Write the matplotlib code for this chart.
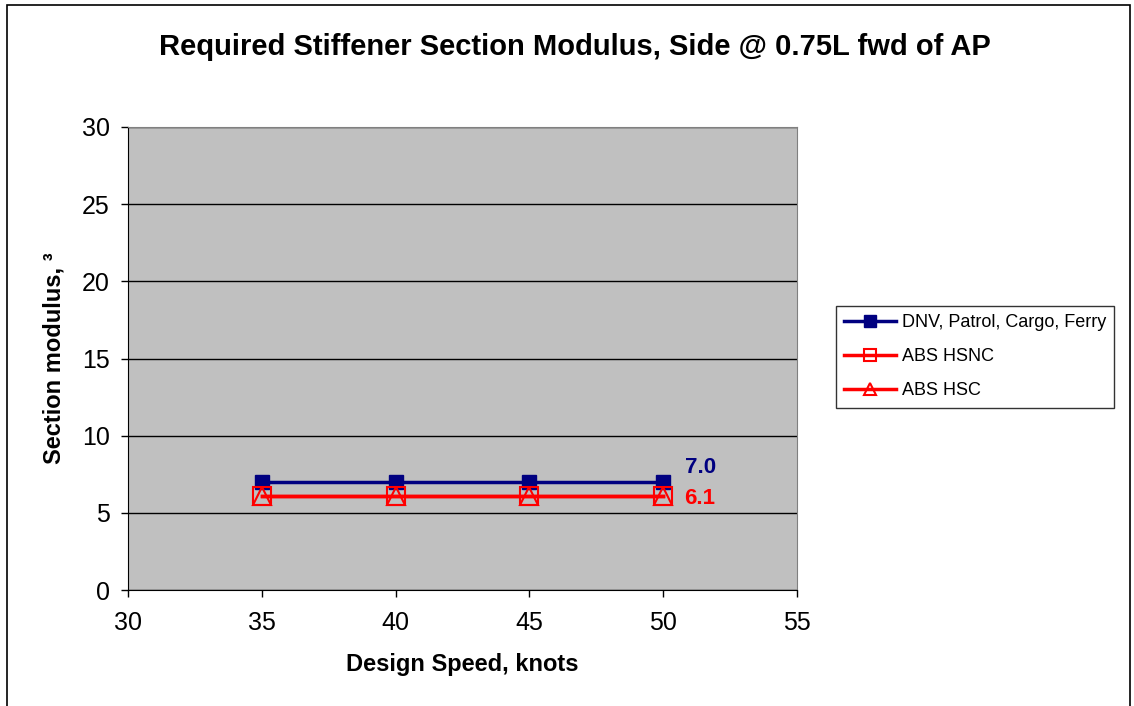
import matplotlib.pyplot as plt
from matplotlib.patches import Rectangle

plt.rcParams['font.family'] = ['Liberation Sans', 'DejaVu Sans']

# -----------------------
# Data
# -----------------------
speed = [35, 40, 45, 50]
dnv = [7.0, 7.0, 7.0, 7.0]
abs_hsnc = [6.1, 6.1, 6.1, 6.1]
abs_hsc = [6.1, 6.1, 6.1, 6.1]
x_ticks = [30, 35, 40, 45, 50, 55]
y_ticks = [0, 5, 10, 15, 20, 25, 30]

# -----------------------
# Figure
# -----------------------
fig = plt.figure(figsize=(11.34, 7.06), dpi=100)
fig.patches.append(Rectangle((7 / 1134, -0.01), 1123 / 1134, 1 - 5 / 706 + 0.01,
                             transform=fig.transFigure, fill=False,
                             edgecolor="black", linewidth=1.2))

ax = fig.add_axes([128 / 1134, 1 - 590 / 706, (797 - 128) / 1134, (590 - 127) / 706])
ax.set_facecolor("#C0C0C0")

navy = "#000080"
red = "#FF0000"
ax.plot(speed, dnv, color=navy, linewidth=2.5, marker="s", markersize=10,
        label="DNV, Patrol, Cargo, Ferry", zorder=3)
ax.plot(speed, abs_hsnc, color=red, linewidth=2.5, marker="s", markersize=13,
        markerfacecolor="none", markeredgewidth=1.5, label="ABS HSNC", zorder=4)
ax.plot(speed, abs_hsc, color=red, linewidth=2.5, marker="^", markersize=13,
        markerfacecolor="none", markeredgewidth=1.5, label="ABS HSC", zorder=4)

# end-of-line value labels
ax.text(speed[-1] + 0.8, dnv[-1] + 0.95, f"{dnv[-1]:.1f}", color=navy,
        fontsize=16, fontweight="bold", va="center", ha="left")
ax.text(speed[-1] + 0.8, abs_hsc[-1] - 0.2, f"{abs_hsc[-1]:.1f}", color=red,
        fontsize=16, fontweight="bold", va="center", ha="left")

ax.set_xlim(30, 55)
ax.set_ylim(0, 30)
ax.set_xticks(x_ticks)
ax.set_yticks(y_ticks)
ax.tick_params(labelsize=18, direction="out", length=5, width=1, pad=8)
ax.tick_params(axis="x", pad=10)
ax.yaxis.grid(True, color="black", linewidth=1)
ax.set_axisbelow(True)
for side in ["top", "right"]:
    ax.spines[side].set_color("#808080")

ax.set_xlabel("Design Speed, knots", fontsize=17, fontweight="bold", labelpad=13)
ax.set_ylabel("Section modulus, ³", fontsize=17, fontweight="bold", labelpad=12)

fig.text(0.507, 0.933, "Required Stiffener Section Modulus, Side @ 0.75L fwd of AP",
         ha="center", va="center", fontsize=21, fontweight="bold")

leg = fig.legend(loc="upper left", bbox_to_anchor=(836 / 1134, 1 - 306 / 706),
                 fontsize=13, frameon=True, fancybox=False, edgecolor="black",
                 handlelength=2.9, borderpad=0.45, borderaxespad=0,
                 labelspacing=0.95, handletextpad=0.3)
leg.get_frame().set_linewidth(1)
for h in leg.legend_handles:
    h.set_markersize(8)

fig.savefig("out.png", dpi=100)
